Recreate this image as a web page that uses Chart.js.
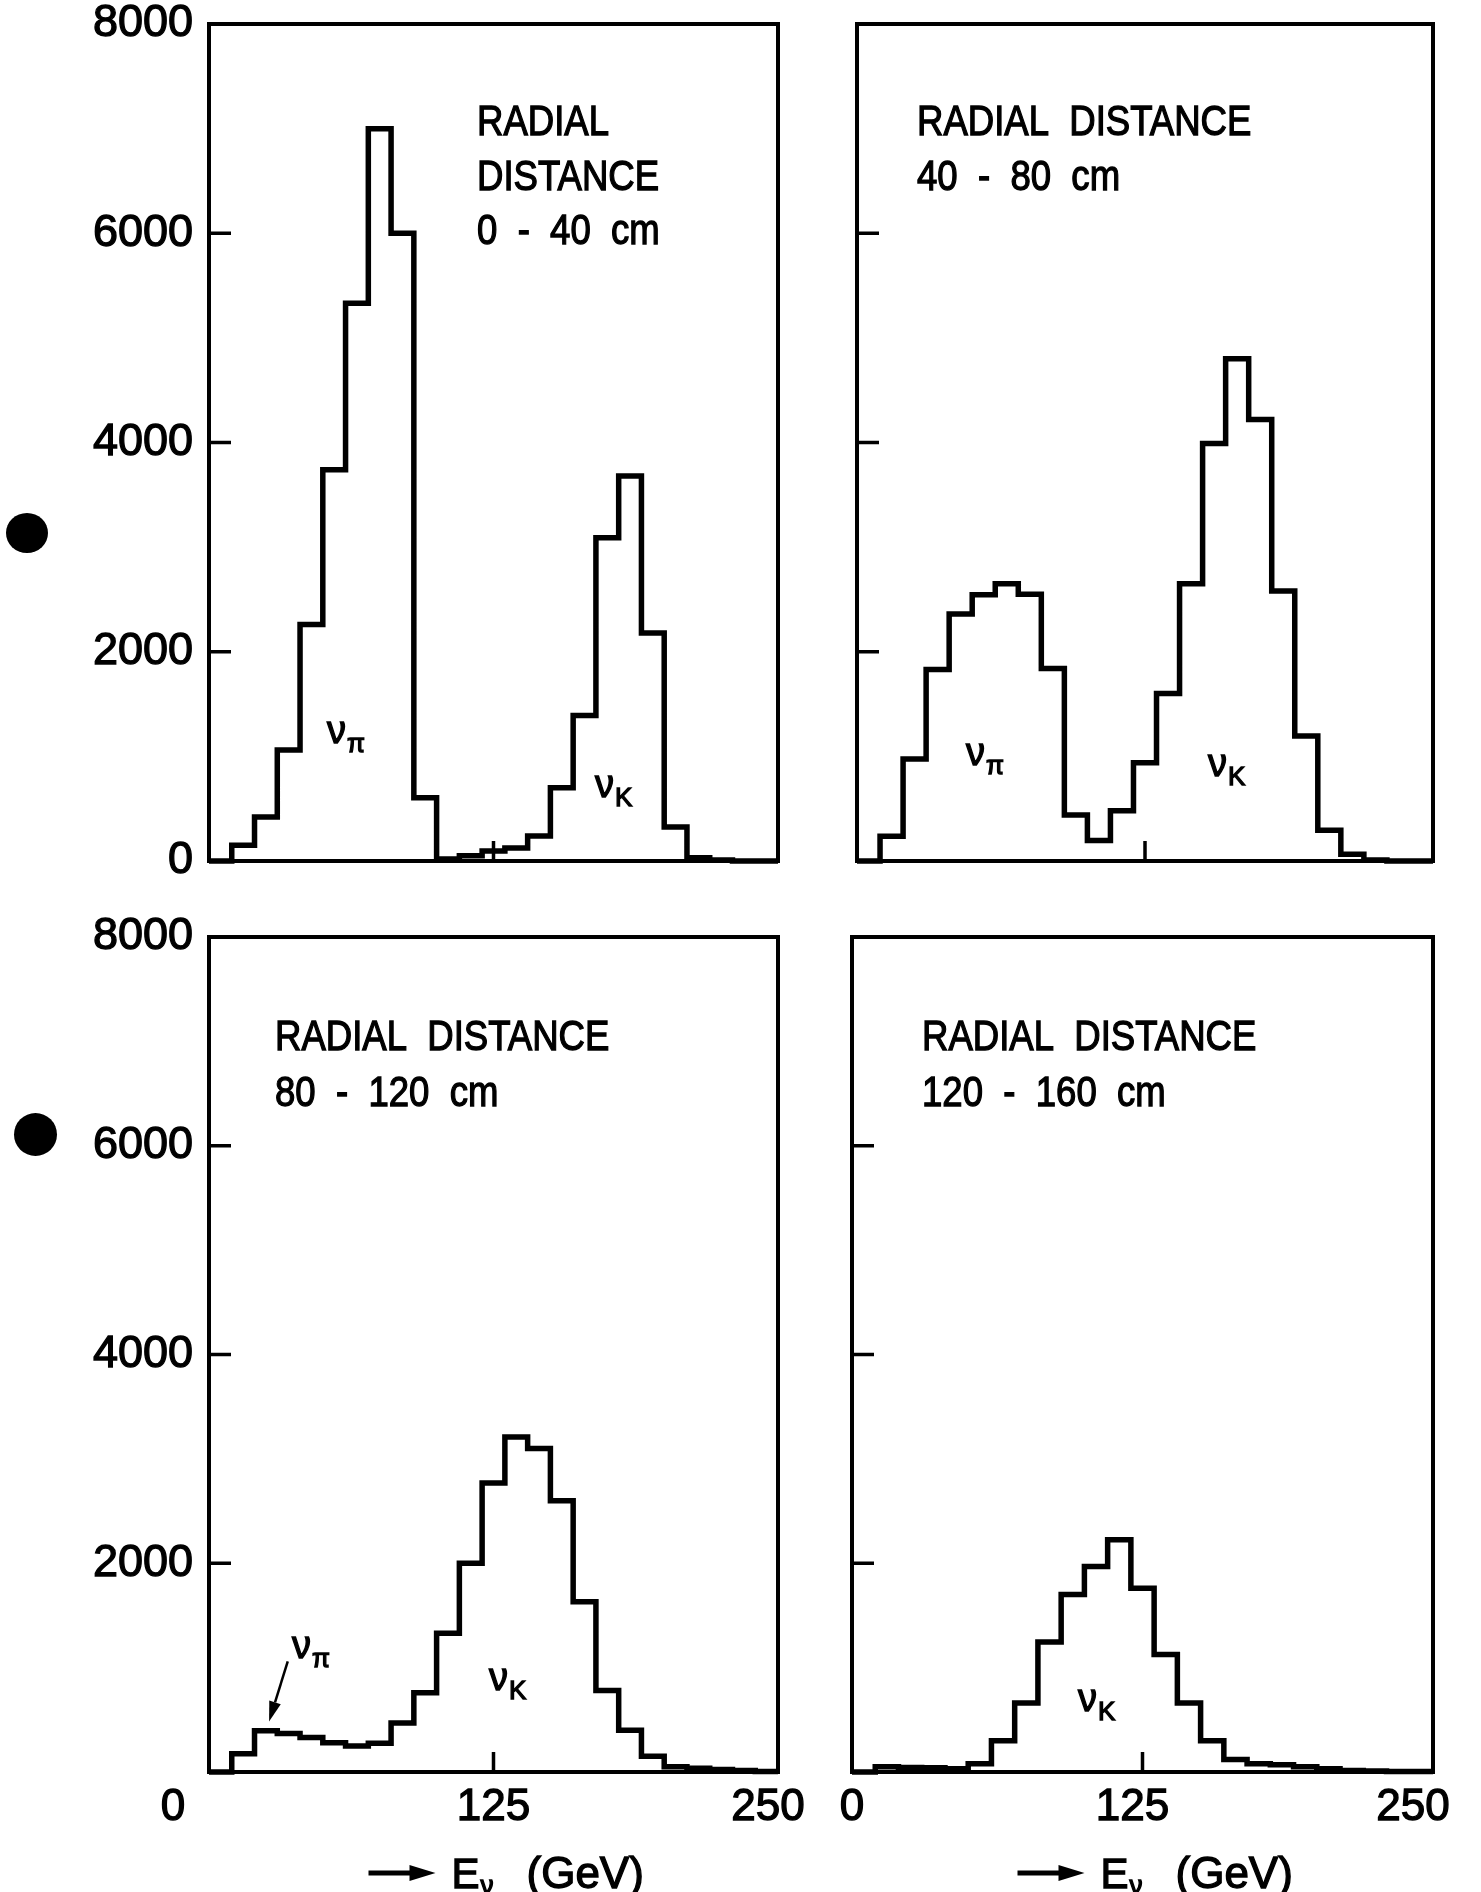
<!DOCTYPE html>
<html>
<head>
<meta charset="utf-8">
<title>Neutrino energy spectra by radial distance</title>
<script src="https://cdn.jsdelivr.net/npm/chart.js@4.4.1/dist/chart.umd.min.js"></script>
<style>
  html, body { margin: 0; padding: 0; background: #fff; }
  #page { position: relative; width: 1481px; height: 1892px; overflow: hidden; background: #fff; }
  #page canvas { position: absolute; }
  .hole { position: absolute; background: #000; border-radius: 50%; }
</style>
</head>
<body>
<div id="page">
  <div class="hole" style="left:6px; top:513px; width:42px; height:40px;"></div>
  <div class="hole" style="left:14px; top:1113px; width:43px; height:43px;"></div>
  <canvas id="panel1" width="830" height="925" style="left:0; top:-20px;"></canvas>
  <canvas id="panel2" width="651" height="925" style="left:830px; top:-20px;"></canvas>
  <canvas id="panel3" width="830" height="1002" style="left:0; top:890px;"></canvas>
  <canvas id="panel4" width="651" height="1002" style="left:830px; top:890px;"></canvas>
</div>
<script>
// bin edges in GeV (10 GeV bins)
const binEdges = [0, 10, 20, 30, 40, 50, 60, 70, 80, 90, 100, 110, 120, 130, 140, 150, 160, 170, 180, 190, 200, 210, 220, 230, 240, 250];

// events per bin, one list per radial distance band
const events0to40 = [0, 150, 420, 1060, 2260, 3740, 5330, 7000, 6000, 605, 20, 50, 95, 125, 240, 700, 1390, 3090, 3680, 2180, 325, 30, 10, 0, 0];
const events40to80 = [0, 237, 975, 1830, 2360, 2545, 2650, 2550, 1840, 440, 195, 480, 940, 1600, 2650, 3990, 4800, 4220, 2580, 1195, 295, 65, 10, 0, 0];
const events80to120 = [0, 176, 395, 370, 330, 280, 250, 275, 470, 760, 1330, 2000, 2770, 3210, 3100, 2600, 1630, 780, 400, 150, 50, 35, 25, 15, 5];
const events120to160 = [0, 50, 42, 40, 30, 80, 300, 660, 1245, 1700, 1970, 2225, 1760, 1125, 660, 300, 120, 80, 70, 50, 30, 15, 10, 5, 5];

const yTickValues = [0, 2000, 4000, 6000, 8000];
const xTickValues = [0, 125, 250];

const FONT = '"Liberation Sans", Arial, sans-serif';

function histPoints(counts) {
  // each edge carries the value of the bin that starts there
  return binEdges.map((edge, i) => ({ x: edge, y: counts[Math.min(i, counts.length - 1)] }));
}

// lettering is a bit heavier than the font: fill + thin outline
function heavyText(ctx, text, x, y) {
  ctx.fillText(text, x, y);
  ctx.lineWidth = 1.3;
  ctx.strokeText(text, x, y);
}

// narrow lettering: draw text squeezed horizontally
function squeezedText(ctx, text, x, y, sx) {
  ctx.save();
  ctx.translate(x, y);
  ctx.scale(sx, 1);
  heavyText(ctx, text, 0, 0);
  ctx.restore();
}

function drawNu(ctx, x, y, sub) {
  ctx.textAlign = 'left';
  ctx.textBaseline = 'alphabetic';
  ctx.font = '38px ' + FONT;
  heavyText(ctx, '\u03bd', x, y + 10);
  const w = ctx.measureText('\u03bd').width;
  ctx.font = '26px ' + FONT;
  heavyText(ctx, sub, x + w + 1, y + 19);
}

function drawArrow(ctx, x0, y0, x1, y1, width, headLen, headHalf) {
  const ang = Math.atan2(y1 - y0, x1 - x0);
  const bx = x1 - headLen * Math.cos(ang), by = y1 - headLen * Math.sin(ang);
  ctx.lineWidth = width;
  ctx.beginPath();
  ctx.moveTo(x0, y0);
  ctx.lineTo(bx, by);
  ctx.stroke();
  ctx.beginPath();
  ctx.moveTo(x1, y1);
  ctx.lineTo(bx + headHalf * Math.sin(ang), by - headHalf * Math.cos(ang));
  ctx.lineTo(bx - headHalf * Math.sin(ang), by + headHalf * Math.cos(ang));
  ctx.closePath();
  ctx.fill();
}

function decorPlugin(p) {
  return {
    id: 'decor',
    beforeDatasetsDraw(chart) {
      const { ctx, chartArea: a, scales: { x, y } } = chart;
      ctx.save();
      ctx.strokeStyle = '#000';
      ctx.lineWidth = 4;
      ctx.strokeRect(a.left, a.top, a.right - a.left, a.bottom - a.top);
      ctx.lineWidth = 3.5;
      ctx.beginPath();
      yTickValues.slice(1, -1).forEach(v => {
        const py = y.getPixelForValue(v);
        ctx.moveTo(a.left, py);
        ctx.lineTo(a.left + 22, py);
      });
      xTickValues.slice(1, -1).forEach(v => {
        const px = x.getPixelForValue(v);
        ctx.moveTo(px, a.bottom);
        ctx.lineTo(px, a.bottom - 20);
      });
      ctx.stroke();
      ctx.restore();
    },
    afterDraw(chart) {
      const { ctx, chartArea: a, scales: { x, y } } = chart;
      ctx.save();
      ctx.fillStyle = '#000';
      ctx.strokeStyle = '#000';

      // panel title
      ctx.font = '42px ' + FONT;
      ctx.textAlign = 'left';
      ctx.textBaseline = 'alphabetic';
      p.title.forEach((line, i) => {
        squeezedText(ctx, line, a.left + p.titleX, a.top + p.titleY[i], 0.87);
      });

      // nu labels in data coordinates
      p.labels.forEach(l => drawNu(ctx, x.getPixelForValue(l.x), y.getPixelForValue(l.y), l.sub));

      if (p.pointer) {
        const q = p.pointer;
        drawArrow(ctx, x.getPixelForValue(q.from[0]), y.getPixelForValue(q.from[1]),
          x.getPixelForValue(q.to[0]), y.getPixelForValue(q.to[1]), 2.5, 20, 6);
      }

      if (p.xLabels) {
        ctx.font = '44px ' + FONT;
        ctx.textAlign = 'center';
        ctx.textBaseline = 'middle';
        xTickValues.forEach((v, i) => {
          heavyText(ctx, String(v), x.getPixelForValue(v) + p.xLabelShift[i], a.bottom + 36);
        });

        // axis title: arrow, E with subscript nu, (GeV)
        const c = x.getPixelForValue(xTickValues[1]);
        const ty = a.bottom + 101;
        ctx.fillRect(c - 125, ty - 2.5, 45, 5);
        ctx.beginPath();
        ctx.moveTo(c - 84, ty - 8);
        ctx.lineTo(c - 58, ty);
        ctx.lineTo(c - 84, ty + 8);
        ctx.closePath();
        ctx.fill();
        ctx.textAlign = 'left';
        ctx.textBaseline = 'alphabetic';
        ctx.font = '42px ' + FONT;
        heavyText(ctx, 'E', c - 42, ty + 15);
        ctx.font = '26px ' + FONT;
        heavyText(ctx, '\u03bd', c - 13, ty + 21);
        ctx.font = '44px ' + FONT;
        heavyText(ctx, '(GeV)', c + 33, ty + 15);
      }
      ctx.restore();
    }
  };
}

const panels = [
  {
    canvas: 'panel1', counts: events0to40, showY: true, yLabels: yTickValues,
    padding: { left: 0, top: 44, right: 52, bottom: 44 }, yAxisWidth: 209,
    title: ['RADIAL', 'DISTANCE', '0  -  40  cm'], titleX: 268, titleY: [111, 166, 220],
    labels: [{ x: 51.8, y: 1221, sub: '\u03c0' }, { x: 169.6, y: 711, sub: 'K' }],
    xLabels: false
  },
  {
    canvas: 'panel2', counts: events40to80, showY: false,
    padding: { left: 27, top: 44, right: 48, bottom: 44 },
    title: ['RADIAL  DISTANCE', '40  -  80  cm'], titleX: 60, titleY: [111, 166],
    labels: [{ x: 47.3, y: 1013, sub: '\u03c0' }, { x: 152.3, y: 909, sub: 'K' }],
    xLabels: false
  },
  {
    canvas: 'panel3', counts: events80to120, showY: true, yLabels: yTickValues.slice(1),
    padding: { left: 0, top: 47, right: 52, bottom: 120 }, yAxisWidth: 209,
    title: ['RADIAL  DISTANCE', '80  -  120  cm'], titleX: 66, titleY: [113, 169],
    labels: [{ x: 36.5, y: 1192, sub: '\u03c0' }, { x: 123, y: 884, sub: 'K' }],
    pointer: { from: [34.6, 1060], to: [26.4, 484] },
    xLabels: true, xLabelShift: [-36, 0, -10]
  },
  {
    canvas: 'panel4', counts: events120to160, showY: false,
    padding: { left: 22, top: 47, right: 48, bottom: 120 },
    title: ['RADIAL  DISTANCE', '120  -  160  cm'], titleX: 70, titleY: [113, 169],
    labels: [{ x: 97.2, y: 685, sub: 'K' }],
    xLabels: true, xLabelShift: [0, -10, -20]
  }
];

panels.forEach(p => {
  const yScale = {
    type: 'linear',
    min: yTickValues[0],
    max: yTickValues[yTickValues.length - 1],
    display: p.showY,
    grid: { display: false, drawTicks: false },
    border: { display: false },
    ticks: {
      color: '#000',
      padding: 16,
      textStrokeColor: '#000',
      textStrokeWidth: 1.3,
      font: { family: FONT, size: 45, lineHeight: 1 },
      callback: v => String(v)
    }
  };
  if (p.showY) {
    yScale.afterFit = s => { s.width = p.yAxisWidth; };
    yScale.afterBuildTicks = s => { s.ticks = p.yLabels.map(v => ({ value: v })); };
  }

  new Chart(document.getElementById(p.canvas), {
    type: 'line',
    data: {
      datasets: [{
        data: histPoints(p.counts),
        stepped: 'before',
        borderColor: '#000',
        borderWidth: 5.5,
        borderJoinStyle: 'miter',
        pointRadius: 0,
        fill: false,
        clip: false
      }]
    },
    options: {
      responsive: false,
      animation: false,
      events: [],
      layout: { padding: p.padding },
      plugins: { legend: { display: false }, tooltip: { enabled: false } },
      scales: {
        x: { type: 'linear', min: xTickValues[0], max: xTickValues[xTickValues.length - 1], display: false },
        y: yScale
      }
    },
    plugins: [decorPlugin(p)]
  });
});
</script>
</body>
</html>
